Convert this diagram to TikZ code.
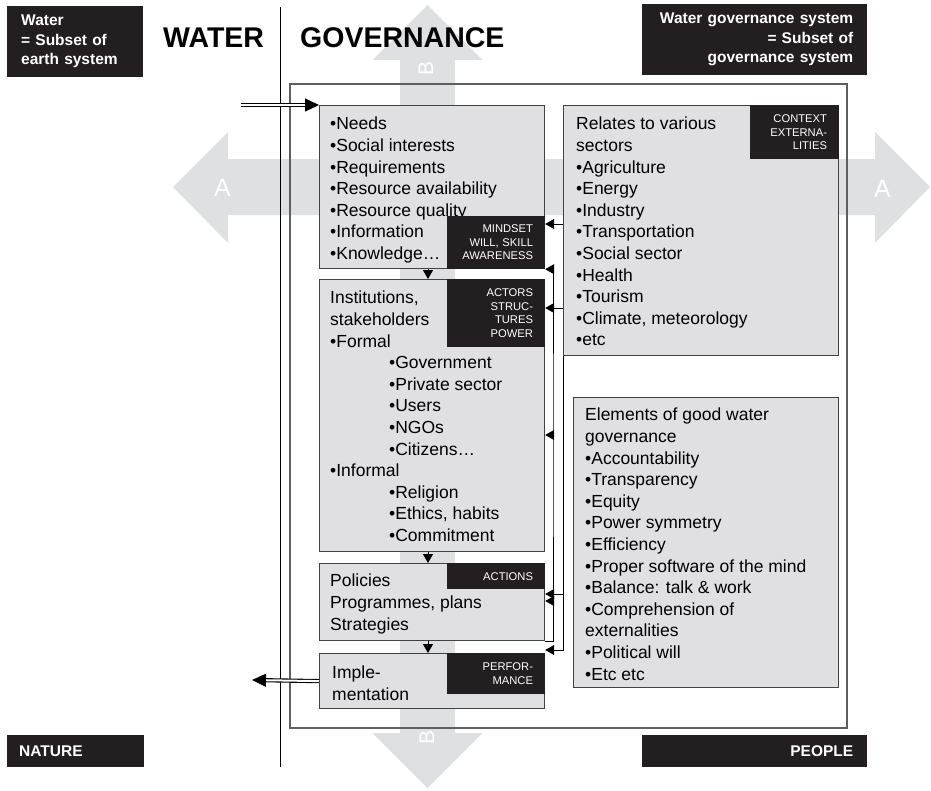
\documentclass[tikz,border=0pt]{standalone}
\usepackage{fontspec}
\setmainfont{Liberation Sans}
\usetikzlibrary{arrows.meta}

\definecolor{ink}{RGB}{35,31,32}
\definecolor{shade}{RGB}{224,224,226}
\definecolor{bigarrow}{RGB}{223,224,226}
\definecolor{rim}{RGB}{95,95,95}

\tikzset{
  panel/.style={draw=ink!85, line width=1.2pt, fill=shade, anchor=north west, inner sep=0pt},
  listing/.style={anchor=north west, align=left, inner sep=0pt, font=\fontsize{17.5}{21.6}\selectfont},
  tag/.style={fill=ink, text=white, align=right, inner xsep=12pt, inner ysep=0pt,
    font=\fontsize{11.2}{13.4}\selectfont},
  corner/.style={fill=ink, text=white, inner ysep=0pt, anchor=north west,
    font=\bfseries\fontsize{15.5}{19.5}\selectfont},
  flow/.style={-{Triangle[length=9pt,width=10pt]}, line width=0.9pt},
  twin/.style={double, double distance=2pt, line width=1.1pt, -{Triangle[length=14pt,width=13pt]}},
}

\begin{document}
\begin{tikzpicture}[x=1pt, y=-1pt]
  \useasboundingbox (0,0) rectangle (931,790);

  % the two big axes behind everything
  \fill[bigarrow] (173,187) -- (228,132) -- (228,159) -- (875,159) -- (875,132) -- (930,187)
    -- (875,243) -- (875,215) -- (228,215) -- (228,243) -- cycle;
  \fill[bigarrow] (427.5,5) -- (482.5,60) -- (455,60) -- (455,733) -- (482.5,733) -- (427.5,788)
    -- (372.5,733) -- (400,733) -- (400,60) -- (372.5,60) -- cycle;
  \node[text=white, font=\fontsize{25}{25}\selectfont] (aleft) at (222.5,188) {A};
  \node[text=white, font=\fontsize{25}{25}\selectfont] (aright) at (882.5,189) {A};
  \node[text=white, font=\fontsize{21}{21}\selectfont, rotate=90] (btop) at (426,68) {B};
  \node[text=white, font=\fontsize{21}{21}\selectfont, rotate=90] (bbot) at (427,737) {B};

  % water | governance divide
  \coordinate (divtop) at (280,7);
  \coordinate (divbot) at (280,767);
  \draw[line width=0.9pt] (divtop) -- (divbot);
  \node[font=\bfseries\fontsize{28.5}{30}\selectfont, anchor=base west, inner sep=0] (water) at (163,47.5) {WATER};
  \node[font=\bfseries\fontsize{28.5}{30}\selectfont, anchor=base west, inner sep=0] (gov) at (300,47.5) {GOVERNANCE};

  \draw[rim, line width=1.3pt] (290,84) rectangle (847,728);

  % left column
  \node[panel, minimum width=225pt, minimum height=163pt] (needs) at (319,105) {};
  \node[panel, minimum width=225pt, minimum height=272pt] (inst) at (319,279) {};
  \node[panel, minimum width=225pt, minimum height=77pt] (pol) at (319,563) {};
  \node[panel, minimum width=225pt, minimum height=55pt] (impl) at (319,653) {};
  % right column
  \node[panel, minimum width=275pt, minimum height=250pt] (rel) at (563,105) {};
  \node[panel, minimum width=265pt, minimum height=290pt] (good) at (573,397) {};

  \node[listing] (needstxt) at (330,117) {•Needs\\•Social interests\\•Requirements\\•Resource availability\\
    •Resource quality\\•Information\\•Knowledge…};
  \node[listing] (insttxt) at (330,291) {Institutions,\\stakeholders\\•Formal\\
    \hspace*{59pt}•Government\\\hspace*{59pt}•Private sector\\\hspace*{59pt}•Users\\
    \hspace*{59pt}•NGOs\\\hspace*{59pt}•Citizens…\\•Informal\\
    \hspace*{59pt}•Religion\\\hspace*{59pt}•Ethics, habits\\\hspace*{59pt}•Commitment};
  \node[listing] (poltxt) at (330,574) {Policies\\Programmes, plans\\Strategies};
  \node[listing] (impltxt) at (332,666) {Imple-\\mentation};
  \node[listing] (reltxt) at (576,117) {Relates to various\\sectors\\•Agriculture\\•Energy\\•Industry\\
    •Transportation\\•Social sector\\•Health\\•Tourism\\•Climate, meteorology\\•etc};
  \node[listing] (goodtxt) at (585,408) {Elements of good water\\governance\\•Accountability\\
    •Transparency\\•Equity\\•Power symmetry\\•Efficiency\\•Proper software of the mind\\
    •Balance: talk \& work\\•Comprehension of\\externalities\\•Political will\\•Etc etc};

  % black tags
  \node[tag, anchor=south east, text width=74pt, minimum height=53pt] (mindset) at (needs.south east)
    {MINDSET\\WILL, SKILL\\AWARENESS};
  \node[tag, anchor=north east, text width=74pt, minimum height=68pt] (actors) at (inst.north east)
    {ACTORS\\STRUC-\\TURES\\POWER};
  \node[tag, anchor=north east, text width=74pt, minimum height=26pt] (actions) at (pol.north east)
    {ACTIONS};
  \node[tag, anchor=north east, text width=74pt, minimum height=41pt] (perf) at (impl.north east)
    {PERFOR-\\MANCE};
  \node[tag, anchor=north east, text width=65pt, minimum height=54pt] (context) at (rel.north east)
    {CONTEXT\\EXTERNA-\\LITIES};

  % down the column
  \coordinate (spine) at (428,0);
  \draw[flow] (spine |- needs.south) -- (spine |- inst.north);
  \draw[flow] (spine |- inst.south) -- (spine |- pol.north);
  \draw[flow] (spine |- pol.south) -- (spine |- impl.north);

  % feedback lines
  \coordinate (loopx) at (553,0);
  \coordinate (feedx) at (563,0);
  \draw[flow] (rel.west |- 0,224) -- (needs.east |- 0,224);
  \draw[flow] (rel.west |- 0,308) -- (inst.east |- 0,308);
  \draw[flow] (pol.south east) -| (loopx |- 0,435) |- (needs.south east);
  \draw[flow] (loopx |- 0,435) -- (inst.east |- 0,435);
  \draw[flow] (loopx |- 0,601) -- (pol.east |- 0,601);
  \draw[flow] (rel.south west) |- ([yshift=3pt]impl.north east);
  \draw[flow] (feedx |- 0,594) -- (pol.east |- 0,594);

  % in and out
  \coordinate (inlet) at (241,105);
  \coordinate (outlet) at (252,680);
  \draw[twin] (inlet) -- (needs.north west);
  \draw[twin] (impl.west) -- (outlet);

  % corner captions
  \node[corner, minimum width=136pt, minimum height=71pt, text width=108pt, inner xsep=14pt, align=left]
    (earth) at (7,6) {Water\\= Subset of\\earth system};
  \node[corner, minimum width=225pt, minimum height=71pt, text width=197pt, inner xsep=14pt, align=right]
    (subset) at (642,4) {Water governance system\\= Subset of\\governance system};
  \node[corner, minimum width=137pt, minimum height=32pt, text width=113pt, inner xsep=12pt, align=left]
    (nature) at (7,735) {NATURE};
  \node[corner, minimum width=225pt, minimum height=32pt, text width=197pt, inner xsep=14pt, align=right]
    (people) at (642,735) {PEOPLE};
\end{tikzpicture}
\end{document}
